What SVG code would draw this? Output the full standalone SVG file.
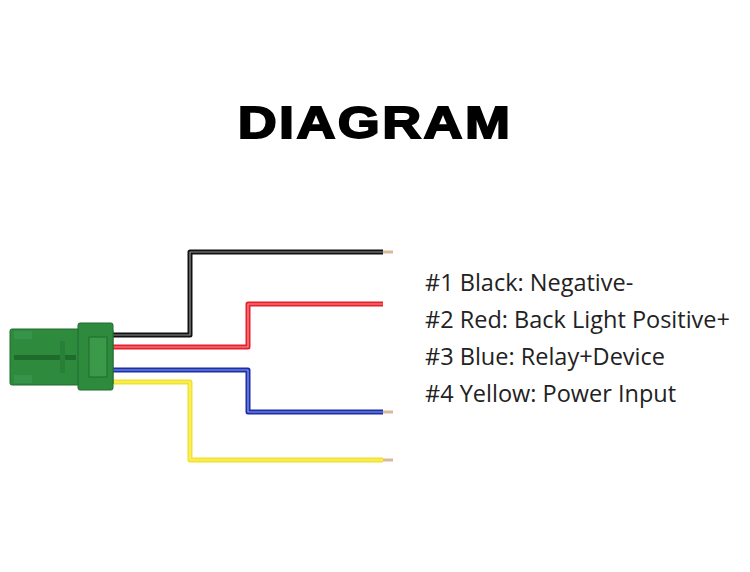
<svg xmlns="http://www.w3.org/2000/svg" width="750" height="572" viewBox="0 0 750 572">
<style>
.w{fill:none;stroke-width:5;stroke-linejoin:round}
.hl{fill:none;stroke:#fff;stroke-opacity:.55;stroke-width:1.2;stroke-linejoin:round}
.tip{stroke:#d9b99a;stroke-width:3}
.lbl{font-family:"Open Sans",sans-serif;font-size:23.5px;fill:#222}
</style>
<rect width="750" height="572" fill="#fff"/>
<text x="375" y="138" text-anchor="middle" font-family="Liberation Sans,sans-serif" font-weight="bold" font-size="45" letter-spacing="2" stroke="#000" stroke-width="1.8" transform="translate(375 0) scale(1.2 1) translate(-375 0)">DIAGRAM</text>
<g id="wires">
<path class="w" stroke="#111" d="M113 335H190V252H383"/><path class="hl" d="M113 335H190V252H383"/>
<path class="w" stroke="#e8202a" d="M113 347H248V304H383"/><path class="hl" d="M113 347H248V304H383"/>
<path class="w" stroke="#1a2fb0" d="M113 370H248V412H383"/><path class="hl" d="M113 370H248V412H383"/>
<path class="w" stroke="#f2e424" d="M113 382H190V460H383"/><path class="hl" d="M113 382H190V460H383"/>
<path class="tip" d="M383 252h10M383 412h10M383 460h10"/>
</g>
<g id="connector">
<rect x="10" y="329" width="103" height="56" rx="2" fill="#2e8b3e" stroke="#1f6b2c"/>
<rect x="78" y="323" width="35" height="67" rx="2" fill="#2e8b3e" stroke="#1f6b2c"/>
<rect x="89" y="337" width="18" height="40" fill="#3a9a4a" stroke="#1f6b2c"/>
<rect x="14" y="355" width="62" height="5" fill="#1f6b2c"/>
<rect x="60" y="341" width="5" height="32" fill="#2a7f38"/>
<rect x="14" y="331" width="18" height="8" fill="#36934a"/>
<rect x="14" y="375" width="18" height="8" fill="#36934a"/>
</g>
<g id="labels">
<text class="lbl" x="425" y="291">#1 Black: Negative-</text>
<text class="lbl" x="425" y="328">#2 Red: Back Light Positive+</text>
<text class="lbl" x="425" y="365">#3 Blue: Relay+Device</text>
<text class="lbl" x="425" y="402">#4 Yellow: Power Input</text>
</g>
</svg>
